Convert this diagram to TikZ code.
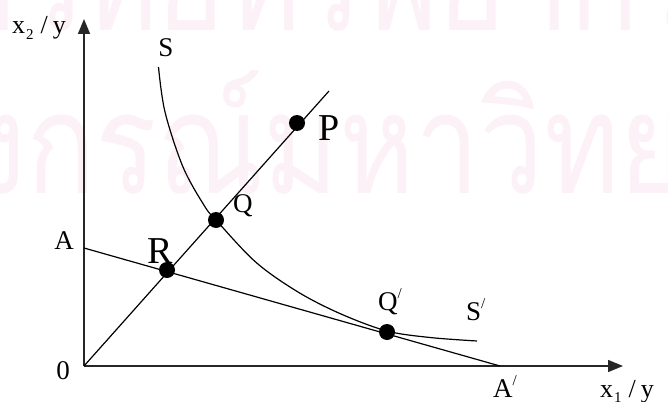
\documentclass[tikz,border=0pt]{standalone}
\usepackage{fontspec}
\setmainfont{Liberation Serif}
\newfontfamily\thaifont[Script=Thai]{Loma}
\usetikzlibrary{arrows.meta}
\definecolor{wm}{RGB}{252,241,246}
\newcommand\slashsup{\raisebox{0.42em}{\fontsize{15}{15}\selectfont /}}
\newcommand\subnum[1]{\raisebox{-0.22em}{\fontsize{15}{15}\selectfont #1}}
\begin{document}
\begin{tikzpicture}[x=1pt,y=-1pt,
  axis/.style={line width=1.4pt, draw=black!85, -{Triangle[length=15pt,width=12pt]}},
  thinline/.style={line width=1.2pt, draw=black},
  dot/.style={circle, fill=black, inner sep=0pt, minimum size=16pt},
  lbl/.style={font=\fontsize{27}{30}\selectfont, inner sep=0pt},
  biglbl/.style={font=\fontsize{38}{40}\selectfont, inner sep=0pt},
  axlbl/.style={font=\fontsize{26}{30}\selectfont, inner sep=0pt},
  wmark/.style={font=\thaifont\fontsize{140}{150}\selectfont, text=wm, inner sep=0pt}]
\useasboundingbox (0,0) rectangle (668,401);
\clip (0,0) rectangle (668,401);
% watermark
\node[wmark, anchor=base west] (wm2) at (26,193) {\scalebox{0.82}[1]{\llap{จุฬาลง}กรณ์มหาวิทยาลัย}};
\node[wmark, anchor=base] (wm1) at (250,31) {\scalebox{0.82}[1]{ศูนย์วิทยทรัพยากร}};
% coordinates
\coordinate (O) at (84,366);
\coordinate (Ytip) at (84,19);
\coordinate (Xtip) at (623,366);
\coordinate (A) at (84,248);
\coordinate (Ap) at (500,366);
\coordinate (Rayend) at (329,91);
\coordinate (R) at (167,270);
\coordinate (Q) at (216,220);
\coordinate (P) at (297,123);
\coordinate (Qp) at (387,332);
% axes
\draw[axis] (O) -- (Ytip);
\draw[axis] (O) -- (Xtip);
% lines
\draw[thinline] (O) -- (Rayend);
\draw[thinline] (A) -- (Ap);
% isoquant
\draw[thinline] plot[smooth, tension=0.55] coordinates {(158.5,67) (165,112) (183,167) (204.5,206) (216,220) (255.6,262) (298,292) (341,314) (387,331) (430,337.5) (477,341)};
% dots
\node[dot] (Rdot) at (R) {};
\node[dot] (Qdot) at (Q) {};
\node[dot] (Pdot) at (P) {};
\node[dot] (Qpdot) at (Qp) {};
% labels
\node[axlbl, anchor=base west] (ylab) at (12,34) {x\hspace{1pt}\subnum{2}\hspace{7pt}/\hspace{5pt}y};
\node[axlbl, anchor=base west] (xlab) at (600,397) {x\hspace{1pt}\subnum{1}\hspace{7pt}/\hspace{5pt}y};
\node[lbl, anchor=base] (Slab) at (166,57) {S};
\node[biglbl, anchor=base west] (Plab) at (318,140) {P};
\node[lbl, anchor=base west] (Qlab) at (233,212) {Q};
\node[lbl, anchor=base] (Alab) at (64,249) {A};
\node[biglbl, anchor=base] (Rlab) at (160,263) {R};
\node[lbl, anchor=base] (Olab) at (63,379) {0};
\node[lbl, anchor=base west] (Qplab) at (378,310) {Q\slashsup};
\node[lbl, anchor=base west] (Splab) at (466,320) {S\slashsup};
\node[lbl, anchor=base west] (Aplab) at (493,397) {A\slashsup};
\end{tikzpicture}
\end{document}
